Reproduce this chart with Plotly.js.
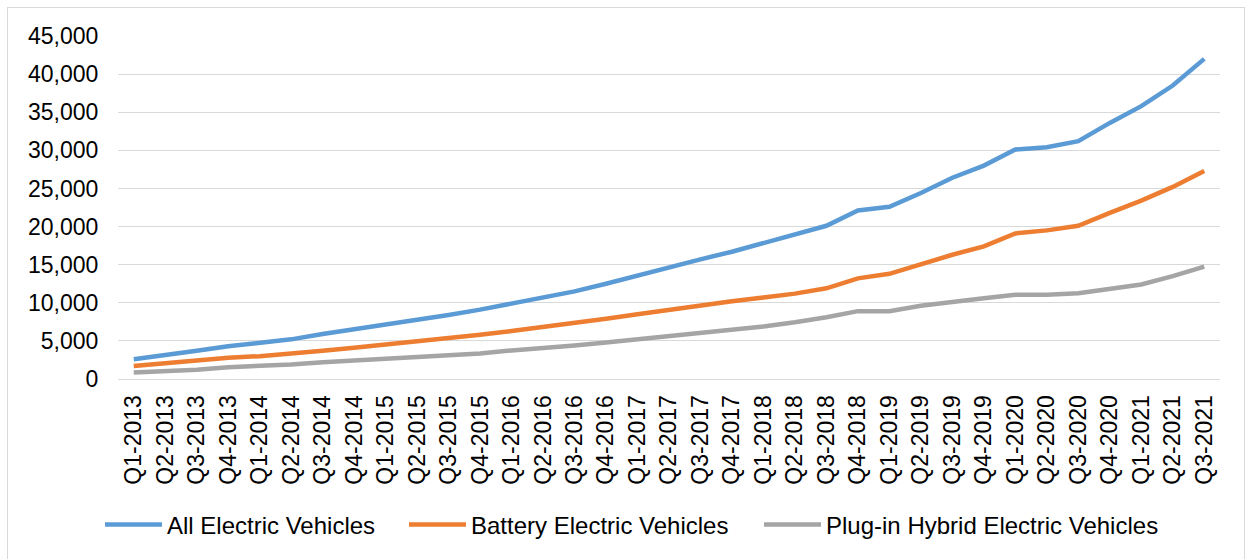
<!DOCTYPE html>
<html>
<head>
<meta charset="utf-8">
<script src="https://cdn.plot.ly/plotly-3.0.1.min.js"></script>
<style>
  html, body { margin: 0; padding: 0; background: #ffffff; }
  #wrap { position: relative; width: 1250px; height: 559px; overflow: hidden; }
  #chart { width: 1250px; height: 559px; }
  #frame { position: absolute; left: 7px; top: 7px; width: 1238px; height: 600px;
           border: 1px solid #d9d9d9; pointer-events: none; box-sizing: border-box; }
</style>
</head>
<body>
<div id="wrap">
  <div id="chart"></div>
  <div id="frame"></div>
</div>
<script>
const quarters = [
  "Q1-2013","Q2-2013","Q3-2013","Q4-2013",
  "Q1-2014","Q2-2014","Q3-2014","Q4-2014",
  "Q1-2015","Q2-2015","Q3-2015","Q4-2015",
  "Q1-2016","Q2-2016","Q3-2016","Q4-2016",
  "Q1-2017","Q2-2017","Q3-2017","Q4-2017",
  "Q1-2018","Q2-2018","Q3-2018","Q4-2018",
  "Q1-2019","Q2-2019","Q3-2019","Q4-2019",
  "Q1-2020","Q2-2020","Q3-2020","Q4-2020",
  "Q1-2021","Q2-2021","Q3-2021"
];

const allEV = [
  2600, 3100, 3700, 4300,
  4700, 5200, 5900, 6500,
  7100, 7700, 8400, 9100,
  9900, 10600, 11500, 12500,
  13600, 14700, 15700, 16700,
  17800, 18900, 20100, 22100,
  22600, 24400, 26400, 28000,
  30100, 30400, 31200, 33600,
  35800, 38500, 42000
];

const batteryEV = [
  1700, 2100, 2500, 2800,
  3000, 3300, 3700, 4100,
  4500, 4900, 5400, 5800,
  6300, 6800, 7300, 7900,
  8500, 9100, 9700, 10200,
  10700, 11200, 11900, 13200,
  13800, 15100, 16300, 17400,
  19100, 19500, 20100, 21800,
  23400, 25200, 27300
];

const plugInHybridEV = [
  850, 1000, 1200, 1550,
  1700, 1900, 2200, 2450,
  2650, 2850, 3050, 3350,
  3750, 4050, 4400, 4800,
  5200, 5650, 6000, 6450,
  6900, 7450, 8100, 8900,
  8900, 9600, 10150, 10600,
  11050, 11050, 11250, 11800,
  12400, 13500, 14750
];

const seriesNames = ["All Electric Vehicles", "Battery Electric Vehicles", "Plug-in Hybrid Electric Vehicles"];
const seriesColors = ["#5B9BD5", "#ED7D31", "#A5A5A5"];
const seriesValues = [allEV, batteryEV, plugInHybridEV];
const legendIds = ["legend", "legend2", "legend3"];

const yTickVals = [0, 5000, 10000, 15000, 20000, 25000, 30000, 35000, 40000, 45000];

const traces = seriesValues.map((vals, i) => ({
  type: "scatter",
  mode: "lines",
  name: seriesNames[i],
  legend: legendIds[i],
  x: quarters,
  y: vals,
  line: { color: seriesColors[i], width: 4.5, shape: "linear" },
  hoverinfo: "x+y+name"
}));

const font = { family: "Liberation Sans, Arial, sans-serif", size: 23, color: "#000000" };
const legendFont = { family: "Liberation Sans, Arial, sans-serif", size: 24, color: "#000000" };

function legendAt(leftPx) {
  return {
    orientation: "h",
    x: leftPx / 1250,
    xanchor: "left",
    xref: "container",
    y: 0.061,
    yref: "container",
    yanchor: "middle",
    font: legendFont,
    itemwidth: 57,
    bgcolor: "rgba(0,0,0,0)",
    borderwidth: 0
  };
}

const layout = {
  width: 1250,
  height: 559,
  margin: { l: 118, r: 30, t: 36, b: 180, pad: 0 },
  paper_bgcolor: "#ffffff",
  plot_bgcolor: "#ffffff",
  font: font,
  showlegend: true,
  legend: legendAt(106 - 6),
  legend2: legendAt(410 - 6),
  legend3: legendAt(765 - 6),
  xaxis: {
    type: "category",
    tickangle: -90,
    ticks: "outside",
    ticklen: 6,
    tickcolor: "rgba(0,0,0,0)",
    showgrid: false,
    showline: false,
    zeroline: false,
    tickfont: font,
    range: [-0.5, quarters.length - 0.5],
    fixedrange: true
  },
  yaxis: {
    range: [0, 45000],
    tickvals: yTickVals,
    tickformat: ",d",
    ticks: "outside",
    ticklen: 14,
    tickcolor: "rgba(0,0,0,0)",
    showgrid: true,
    gridcolor: "#d9d9d9",
    gridwidth: 1.3,
    zeroline: true,
    zerolinecolor: "#d9d9d9",
    zerolinewidth: 1.3,
    showline: false,
    tickfont: font,
    fixedrange: true
  }
};

Plotly.newPlot("chart", traces, layout, { displayModeBar: false });
</script>
</body>
</html>
